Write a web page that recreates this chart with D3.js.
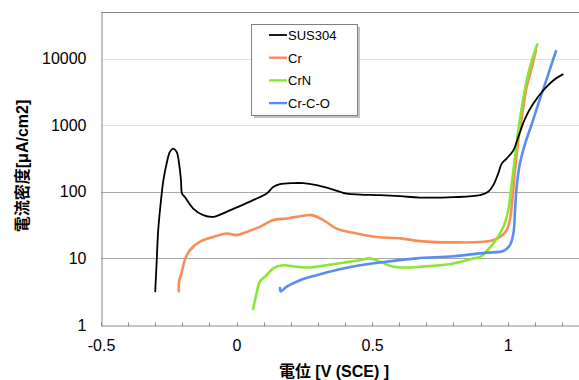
<!DOCTYPE html>
<html>
<head>
<meta charset="utf-8">
<script src="https://cdn.jsdelivr.net/npm/d3@7"></script>
<style>
  html, body { margin: 0; padding: 0; background: #fff; }
  svg { display: block; font-family: "Liberation Sans", Arial, sans-serif; }
</style>
</head>
<body>
<svg id="chart" width="579" height="380"></svg>
<script>
// --- Data ---

const seriesNames = ["SUS304", "Cr", "CrN", "Cr-C-O"];
const seriesColors = ["#000000", "#fa8c5a", "#8ae632", "#5b8def"];
const xTicks = [-0.5, 0, 0.5, 1];
const yTicks = [1, 10, 100, 1000, 10000];

// potential [V (SCE)] / current density [uA/cm2]
const susV = [-0.300, -0.295, -0.289, -0.280, -0.270, -0.258, -0.246, -0.234, -0.221, -0.212, -0.205, -0.201, -0.191, -0.160, -0.123, -0.086, -0.037, 0.012, 0.061, 0.111, 0.135, 0.160, 0.209, 0.246, 0.295, 0.344, 0.406, 0.455, 0.529, 0.603, 0.676, 0.800, 0.898, 0.928, 0.947, 0.965, 0.978, 0.996, 1.021, 1.039, 1.064, 1.094, 1.131, 1.168, 1.203];
const susI = [3.2, 8.4, 26.6, 66.8, 149, 265, 398, 445, 398, 265, 149, 94, 84, 56, 44.7, 42, 50, 61, 75, 94, 118, 130, 135, 135, 126, 112, 94, 91, 89, 86, 82, 83, 89, 100, 126, 188, 265, 316, 419, 665, 1260, 2100, 3320, 4700, 5800];

const crV = [-0.213, -0.212, -0.203, -0.191, -0.172, -0.135, -0.086, -0.037, 0.000, 0.037, 0.086, 0.135, 0.185, 0.234, 0.277, 0.320, 0.369, 0.443, 0.517, 0.603, 0.676, 0.799, 0.935, 0.972, 0.996, 1.008, 1.018, 1.027, 1.039, 1.052, 1.070, 1.089, 1.104];
const crI = [3.2, 4.5, 6.0, 9.4, 13.3, 17.8, 21, 23.7, 22.4, 25, 29.8, 37.6, 39.8, 43, 44.7, 37.6, 28, 23.7, 21, 20, 18.2, 17.4, 18.2, 21, 26.5, 37.5, 83, 210, 590, 1320, 3740, 7400, 13200];

const crnV = [0.061, 0.074, 0.086, 0.111, 0.135, 0.172, 0.221, 0.270, 0.332, 0.393, 0.455, 0.492, 0.529, 0.578, 0.627, 0.676, 0.800, 0.873, 0.898, 0.947, 0.984, 1.002, 1.015, 1.027, 1.039, 1.052, 1.070, 1.089, 1.109];
const crnI = [1.74, 3.0, 4.5, 5.6, 7.1, 7.9, 7.5, 7.3, 7.9, 8.6, 9.4, 10, 8.9, 7.5, 7.3, 7.5, 8.4, 10, 10.5, 16.8, 29.6, 53, 133, 333, 835, 1870, 4700, 9400, 16300];

const ccoV = [0.160, 0.163, 0.185, 0.234, 0.295, 0.369, 0.455, 0.553, 0.664, 0.800, 0.923, 0.984, 1.008, 1.021, 1.027, 1.033, 1.045, 1.064, 1.089, 1.113, 1.138, 1.162, 1.178];
const ccoI = [3.6, 3.2, 3.76, 4.7, 5.6, 6.7, 7.9, 8.9, 10, 10.8, 12.2, 12.9, 15.8, 23.7, 53, 118, 265, 525, 1050, 2100, 4200, 8300, 12900];

const seriesV = [susV, crV, crnV, ccoV];
const seriesI = [susI, crI, crnI, ccoI];

// --- Layout ---

const plot = { left: 101, right: 579, top: 12, bottom: 325 };

const x = d3.scaleLinear()
  .domain([-0.5, 1.263])
  .range([plot.left, plot.right]);

const y = d3.scaleLog()
  .domain([1, Math.pow(10, 4.7)])
  .range([plot.bottom, plot.top]);

const svg = d3.select("#chart");

// --- Grid ---

svg.append("g")
  .selectAll("line")
  .data(yTicks.slice(1))
  .join("line")
  .attr("x1", plot.left)
  .attr("x2", plot.right)
  .attr("y1", (d) => Math.round(y(d)) + 0.5)
  .attr("y2", (d) => Math.round(y(d)) + 0.5)
  .attr("stroke", (d) => (d >= 1000 ? "#e2e2e2" : "#a8a8a8"))
  .attr("stroke-width", 1);

// plot border (top)
svg.append("line")
  .attr("x1", plot.left).attr("x2", plot.right)
  .attr("y1", plot.top + 0.5).attr("y2", plot.top + 0.5)
  .attr("stroke", "#8a8a8a");

// --- Axes ---

const yAxis = d3.axisLeft(y)
  .tickValues(yTicks)
  .tickFormat(d3.format("d"))
  .tickSize(0)
  .tickPadding(15);

const yg = svg.append("g")
  .attr("transform", `translate(${plot.left + 0.5},0)`)
  .call(yAxis);
yg.select(".domain").attr("stroke", "#8a8a8a");
yg.selectAll("text").attr("font-size", 16).attr("fill", "#000")
  .attr("font-family", "'Liberation Sans', Arial, sans-serif");

const minorTicks = d3.range(-5, 13).map((k) => k / 10);

// plain hyphen for negatives, like the original
const xAxis = d3.axisBottom(x)
  .tickValues(xTicks)
  .tickFormat((d) => String(d))
  .tickSize(0)
  .tickPadding(14);

const xg = svg.append("g")
  .attr("transform", `translate(0,${plot.bottom + 0.5})`)
  .call(xAxis);
xg.select(".domain").attr("stroke", "#8a8a8a");
xg.selectAll("text").attr("font-size", 16).attr("fill", "#000")
  .attr("font-family", "'Liberation Sans', Arial, sans-serif");

xg.append("g")
  .selectAll("line")
  .data(minorTicks)
  .join("line")
  .attr("x1", (d) => Math.round(x(d)) + 0.5)
  .attr("x2", (d) => Math.round(x(d)) + 0.5)
  .attr("y1", -3)
  .attr("y2", 1)
  .attr("stroke", "#8a8a8a");

// --- Titles ---

svg.append("text")
  .attr("x", 334)
  .attr("y", 377)
  .attr("text-anchor", "middle")
  .attr("font-size", 16)
  .attr("font-weight", "bold")
  .attr("font-family", "'Liberation Sans', 'Noto Sans CJK JP', sans-serif")
  .text("電位 [V (SCE) ]");

svg.append("text")
  .attr("transform", "translate(28,166) rotate(-90)")
  .attr("text-anchor", "middle")
  .attr("font-size", 16)
  .attr("font-weight", "bold")
  .attr("font-family", "'Liberation Sans', 'Noto Sans CJK JP', sans-serif")
  .text("電流密度[μA/cm2]");

// --- Series ---

const line = d3.line()
  .x((d) => x(d[0]))
  .y((d) => y(d[1]))
  .curve(d3.curveCatmullRom.alpha(0.5));

const order = [1, 2, 3, 0];
svg.append("g")
  .selectAll("path")
  .data(order)
  .join("path")
  .attr("d", (k) => line(d3.zip(seriesV[k], seriesI[k])))
  .attr("fill", "none")
  .attr("stroke", (k) => seriesColors[k])
  .attr("stroke-width", (k) => (k === 0 ? 1.8 : 2.6))
  .attr("stroke-linejoin", "round")
  .attr("stroke-linecap", "round");

// --- Legend ---

const legend = svg.append("g").attr("transform", "translate(251,24)");

legend.append("rect")
  .attr("x", 3).attr("y", 3)
  .attr("width", 106).attr("height", 91)
  .attr("fill", "#9a9a9a")
  .attr("opacity", 0.6);

legend.append("rect")
  .attr("x", 0.5).attr("y", 0.5)
  .attr("width", 106).attr("height", 91)
  .attr("fill", "#fff")
  .attr("stroke", "#808080");

const item = legend.selectAll("g.item")
  .data(seriesNames)
  .join("g")
  .attr("class", "item")
  .attr("transform", (d, i) => `translate(0,${11 + i * 22.7})`);

item.append("line")
  .attr("x1", 18).attr("x2", 36)
  .attr("y1", 0).attr("y2", 0)
  .attr("stroke", (d, i) => seriesColors[i])
  .attr("stroke-width", (d, i) => (i === 0 ? 1.8 : 2.4));

item.append("text")
  .attr("x", 37)
  .attr("y", 5)
  .attr("font-size", 13)
  .attr("fill", "#000")
  .text((d) => d);
</script>
</body>
</html>
